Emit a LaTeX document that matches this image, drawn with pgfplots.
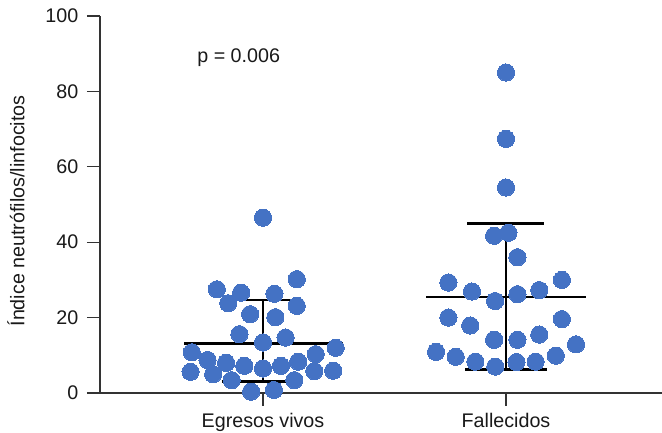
\documentclass[border=0pt]{standalone}
\usepackage{pgfplots}
\pgfplotsset{compat=1.18}
\usepackage{fontspec}
\setmainfont{Liberation Sans}
\definecolor{dotblue}{HTML}{4472C4}
\definecolor{axgray}{HTML}{333333}
\begin{document}
\fontsize{19.7}{23}\selectfont
\begin{tikzpicture}
\useasboundingbox (-100pt,-40pt) rectangle (562pt,393pt);
\begin{axis}[
  at={(0,0)}, anchor=south west,
  scale only axis, width=562pt, height=377pt,
  xmin=-0.6708, xmax=1.642, ymin=0, ymax=100,
  axis lines=left,
  axis line style={-, line width=1.3pt, color=axgray},
  every tick/.style={line width=1.1pt, color=axgray},
  tick align=outside, major tick length=13pt,
  xtick={0,1}, xticklabels={Egresos vivos, Fallecidos},
  ytick={0,20,40,60,80,100},
  /pgf/number format/assume math mode=true,
  ticklabel style={font=\fontsize{19.7}{23}\selectfont, text=black!90},
  yticklabel style={xshift=-2pt},
  ylabel={Índice neutrófilos/linfocitos},
  ylabel style={at={(axis description cs:-0.1495,0.483)}, anchor=center, font=\fontsize{19.7}{23}\selectfont, text=black!90},
  clip=false,
]
% Group 1 lines
\addplot[black, line width=2.6pt] coordinates {(-0.325,13.2) (0.33,13.2)};
\addplot[black, line width=2.6pt] coordinates {(-0.108,24.7) (0.125,24.7)};
\addplot[black, line width=2.6pt] coordinates {(-0.17,3.0) (0.095,3.0)};
\addplot[black, line width=2.3pt] coordinates {(0,3.0) (0,24.7)};
% Group 2 lines
\addplot[black, line width=2.6pt] coordinates {(0.671,25.5) (1.328,25.5)};
\addplot[black, line width=2.6pt] coordinates {(0.84,45.0) (1.156,45.0)};
\addplot[black, line width=2.6pt] coordinates {(0.833,6.3) (1.168,6.3)};
\addplot[black, line width=2.3pt] coordinates {(1,6.3) (1,45.0)};
% Group 1 dots
\addplot[dotblue, only marks, mark=*, mark size=8.6pt, mark options={fill=dotblue, draw=dotblue, line width=0pt}] coordinates {
(0,46.5) (0.139,30.2) (-0.19,27.5) (-0.09,26.6) (0.047,26.3) (-0.143,23.8)
(0.139,23.1) (-0.053,20.9) (0.051,20.1) (-0.097,15.6) (0.093,14.7) (0,13.4)
(0.299,12.0) (-0.293,10.8) (0.217,10.3) (-0.228,8.75) (-0.152,8.0) (-0.077,7.2)
(0.145,8.3) (0,6.5) (0.074,7.2) (-0.298,5.6) (-0.205,5.0) (0.211,5.8)
(0.289,5.9) (-0.129,3.4) (0.129,3.4) (-0.049,0.35) (0.045,0.8)
};
% Group 2 dots
\addplot[dotblue, only marks, mark=*, mark size=8.6pt, mark options={fill=dotblue, draw=dotblue, line width=0pt}] coordinates {
(1,85.0) (1,67.4) (1,54.5) (0.951,41.7) (1.01,42.5) (1.047,36.0)
(0.763,29.3) (1.23,30.0) (0.86,26.9) (1.137,27.3) (0.955,24.4) (1.047,26.2)
(0.763,20.0) (1.23,19.6) (0.853,17.9) (0.951,14.1) (1.047,14.1) (1.137,15.5)
(1.288,12.9) (0.712,10.9) (0.793,9.6) (1.205,9.9) (0.874,8.3) (1.043,8.2)
(1.122,8.3) (0.956,7.0)
};
\node[anchor=base, font=\fontsize{19.7}{23}\selectfont, text=black!90] at (axis cs:-0.100,87.7) {p = 0.006};
\end{axis}
\end{tikzpicture}
\end{document}
